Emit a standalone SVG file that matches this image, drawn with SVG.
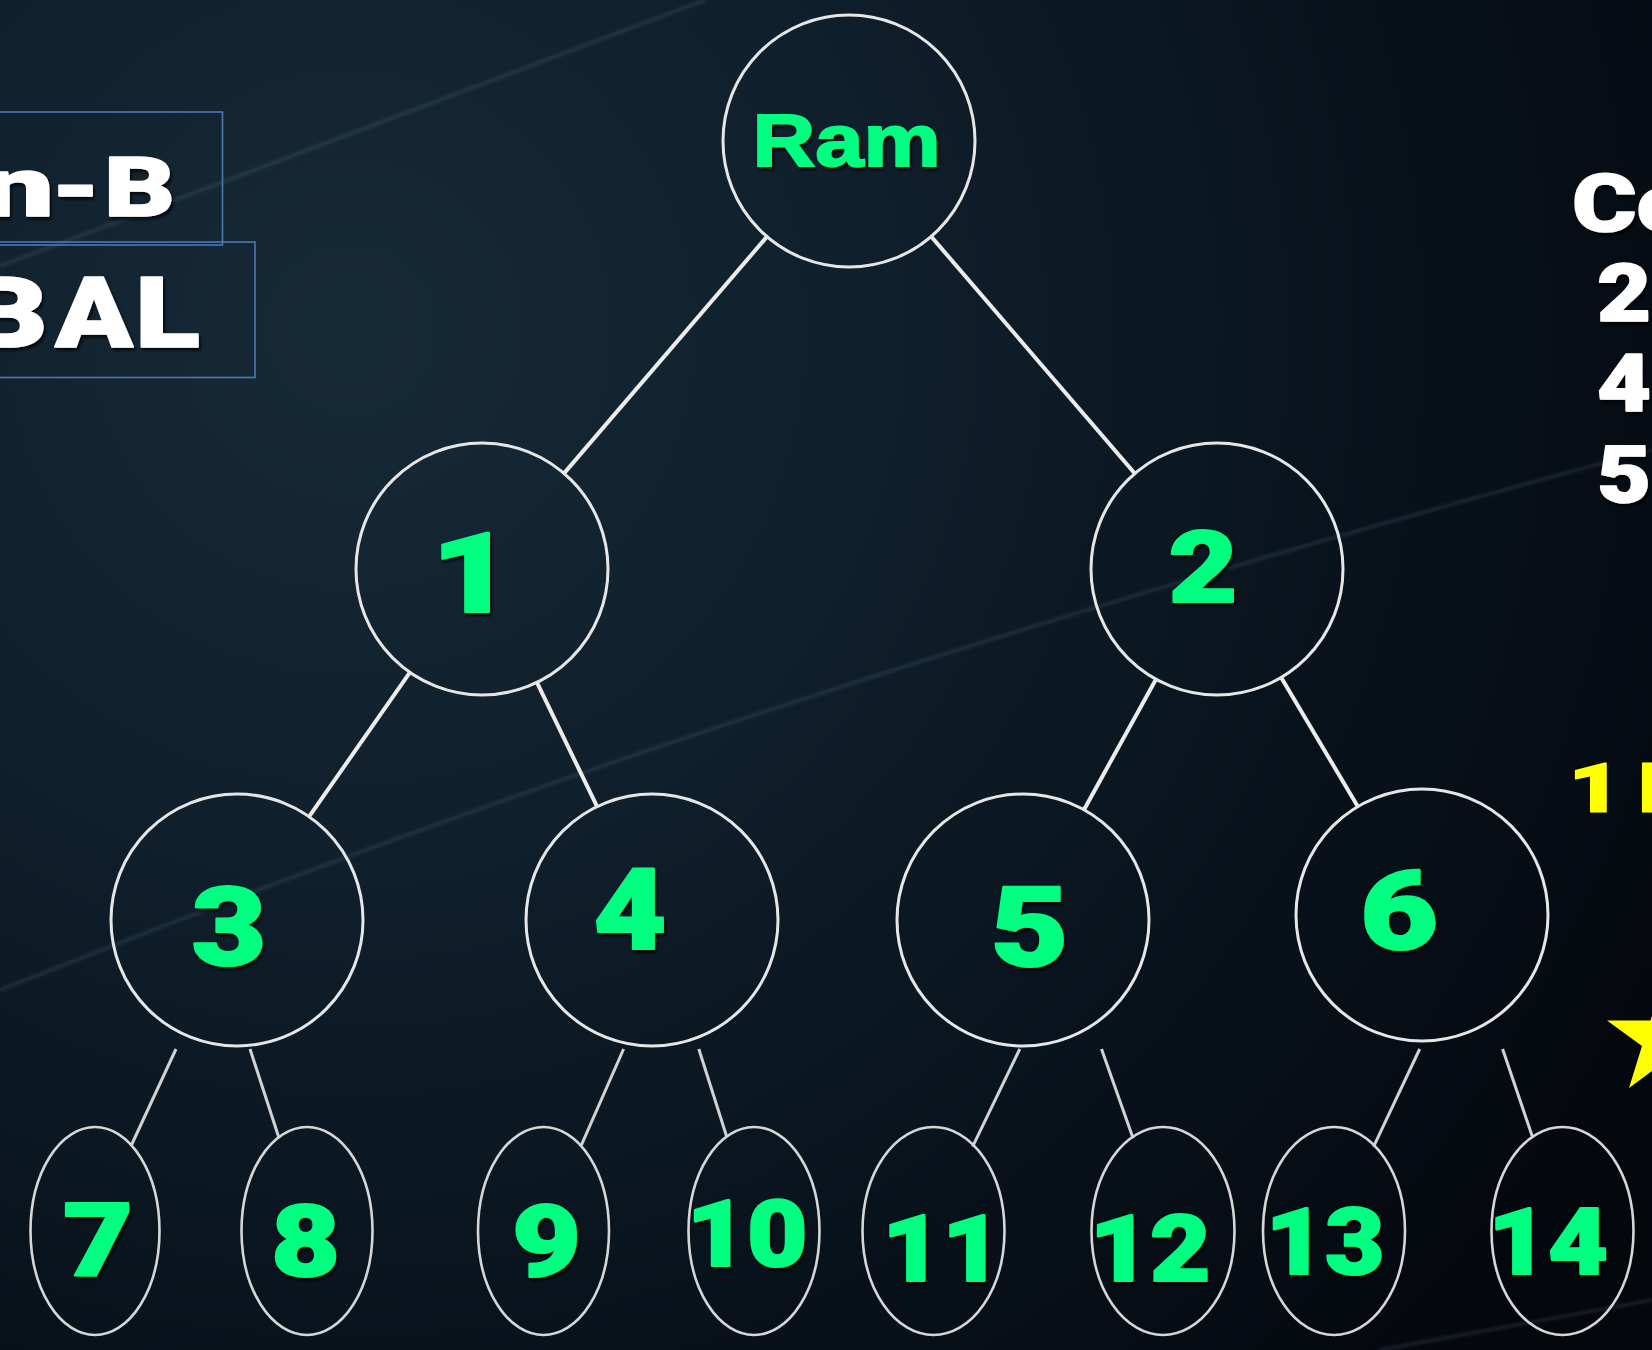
<svg xmlns="http://www.w3.org/2000/svg" width="1652" height="1350" viewBox="0 0 1652 1350">
<defs>
<radialGradient id="bg" cx="350" cy="330" r="1550" gradientUnits="userSpaceOnUse">
<stop offset="0" stop-color="#172a38"/>
<stop offset="0.35" stop-color="#0f1f2b"/>
<stop offset="0.7" stop-color="#08111a"/>
<stop offset="1" stop-color="#04070c"/>
</radialGradient>
<filter id="sh" x="-20%" y="-20%" width="150%" height="150%"><feDropShadow dx="2" dy="3" stdDeviation="1.5" flood-color="#000" flood-opacity="0.7"/></filter>
<filter id="blur" x="-5%" y="-5%" width="110%" height="110%"><feGaussianBlur stdDeviation="1.5"/></filter>
<filter id="soft" x="-5%" y="-5%" width="110%" height="110%"><feGaussianBlur stdDeviation="0.45"/></filter>
</defs>
<style>
.t { font-family: Roboto, "Liberation Sans", Arial, sans-serif; font-weight: 900; stroke-linejoin: round; }
.ram { font-family: "Liberation Sans", Arial, sans-serif; font-weight: bold; stroke-width: 1.5; }
.g { fill: #00ff80; stroke: #00ff80; stroke-width: 2; text-anchor: middle; filter: url(#sh); }
.w { fill: #ffffff; stroke: #ffffff; stroke-width: 1.5; filter: url(#sh); }
.y { fill: #ffff00; stroke: #ffff00; stroke-width: 1; }
.c { fill: none; stroke: #e6e6e6; stroke-width: 3; }
.e { fill: none; stroke: #d6d6d6; stroke-width: 2.6; filter: url(#soft); }
.up { stroke: #ececec; stroke-width: 4; stroke-linecap: butt; }
.lo { stroke: #d2d2d2; stroke-width: 3; stroke-linecap: butt; filter: url(#soft); }
.box { fill: none; stroke: #4a79b6; stroke-width: 1.6; }
.streak { fill: none; stroke: #7fa2bb; stroke-opacity: 0.18; stroke-width: 3; filter: url(#blur); }
</style>

<rect x="0" y="0" width="1652" height="1350" fill="url(#bg)"/>
<g id="streaks">
<path class="streak" d="M0,266 L705,0"/>
<path class="streak" d="M0,990 C400,830 900,650 1652,450"/>
<path class="streak" d="M1380,1350 L1652,1300" stroke-opacity="0.12"/>
</g>

<g id="title-boxes">
<rect class="box" x="-4" y="112" width="226.5" height="133"/>
<rect class="box" x="-4" y="242" width="259" height="135.5"/>
<text class="t w" y="216" font-size="84"><tspan x="-18" textLength="72" lengthAdjust="spacingAndGlyphs">n</tspan><tspan x="51" textLength="50" lengthAdjust="spacingAndGlyphs">-</tspan><tspan x="104" textLength="71" lengthAdjust="spacingAndGlyphs">B</tspan></text>
<text class="t w" y="347" font-size="98"><tspan x="-35" textLength="83" lengthAdjust="spacingAndGlyphs">B</tspan><tspan x="55" textLength="78" lengthAdjust="spacingAndGlyphs">A</tspan><tspan x="135" textLength="65" lengthAdjust="spacingAndGlyphs">L</tspan></text>
</g>

<g id="side-text">
<text class="t w" x="1572" y="230.5" font-size="80" textLength="120" lengthAdjust="spacingAndGlyphs">Co</text>
<text class="t w" x="1597" y="321" font-size="80" textLength="54" lengthAdjust="spacingAndGlyphs">2</text>
<text class="t w" x="1597" y="411" font-size="80" textLength="54" lengthAdjust="spacingAndGlyphs">4</text>
<text class="t w" x="1597" y="501.5" font-size="80" textLength="54" lengthAdjust="spacingAndGlyphs">5</text>
<text class="t y" y="812" font-size="68"><tspan x="1568" textLength="54" lengthAdjust="spacingAndGlyphs">1</tspan> <tspan x="1638">I</tspan></text>
<polygon fill="#ffff00" points="1664,979 1677.5,1020.5 1721,1020.5 1686,1046 1699,1088 1664,1062 1629,1088 1642,1046 1607,1020.5 1650.5,1020.5"/>
</g>

<g id="connectors">
<line class="up" x1="767" y1="236.6" x2="564" y2="473.4"/>
<line class="up" x1="931.2" y1="236.5" x2="1134.8" y2="473.5"/>
<line class="up" x1="409.9" y1="672.3" x2="309.1" y2="816.7"/>
<line class="up" x1="536.9" y1="682.4" x2="597.1" y2="806.6"/>
<line class="up" x1="1156" y1="679.3" x2="1084" y2="809.7"/>
<line class="up" x1="1281.2" y1="677.4" x2="1357.8" y2="806.6"/>
<line class="lo" x1="176" y1="1049" x2="131" y2="1146"/>
<line class="lo" x1="250" y1="1049" x2="279" y2="1138"/>
<line class="lo" x1="623.6" y1="1049" x2="580.7" y2="1146.7"/>
<line class="lo" x1="698.8" y1="1049" x2="726.8" y2="1137"/>
<line class="lo" x1="1019.8" y1="1049" x2="972.6" y2="1146.7"/>
<line class="lo" x1="1101.5" y1="1049" x2="1133" y2="1138"/>
<line class="lo" x1="1419.7" y1="1049" x2="1373.6" y2="1146.7"/>
<line class="lo" x1="1502.6" y1="1049" x2="1532.5" y2="1137"/>
</g>

<g id="node-ram"><circle class="c" cx="849" cy="141" r="126"/><text class="g ram" x="846.5" y="166" font-size="75" textLength="188" lengthAdjust="spacingAndGlyphs">Ram</text></g>
<g id="node-1"><circle class="c" cx="482" cy="569" r="126"/><text class="t g" x="472" y="612" font-size="112" textLength="82" lengthAdjust="spacingAndGlyphs">1</text></g>
<g id="node-2"><circle class="c" cx="1217" cy="569" r="126"/><text class="t g" x="1203" y="602" font-size="100" textLength="69" lengthAdjust="spacingAndGlyphs">2</text></g>
<g id="node-3"><circle class="c" cx="237" cy="920" r="126"/><text class="t g" x="229" y="965" font-size="110" textLength="75" lengthAdjust="spacingAndGlyphs">3</text></g>
<g id="node-4"><circle class="c" cx="652" cy="920" r="126"/><text class="t g" x="630" y="949" font-size="113" textLength="73" lengthAdjust="spacingAndGlyphs">4</text></g>
<g id="node-5"><circle class="c" cx="1023" cy="920" r="126"/><text class="t g" x="1029.5" y="965.5" font-size="111" textLength="78" lengthAdjust="spacingAndGlyphs">5</text></g>
<g id="node-6"><circle class="c" cx="1422" cy="915" r="126"/><text class="t g" x="1399" y="948.5" font-size="110" textLength="78" lengthAdjust="spacingAndGlyphs">6</text></g>

<g id="node-7"><ellipse class="e" cx="95" cy="1231" rx="64.5" ry="104"/><text class="t g" x="98" y="1276" font-size="102" textLength="70" lengthAdjust="spacingAndGlyphs">7</text></g>
<g id="node-8"><ellipse class="e" cx="307" cy="1231" rx="65.5" ry="104"/><text class="t g" x="305.5" y="1275.5" font-size="100" textLength="69" lengthAdjust="spacingAndGlyphs">8</text></g>
<g id="node-9"><ellipse class="e" cx="543.5" cy="1231" rx="65.5" ry="104"/><text class="t g" x="546.5" y="1275.5" font-size="100" textLength="69" lengthAdjust="spacingAndGlyphs">9</text></g>
<g id="node-10"><ellipse class="e" cx="754" cy="1231" rx="65.5" ry="104"/><text class="t g" x="747" y="1266" font-size="92" textLength="121" lengthAdjust="spacingAndGlyphs">10</text></g>
<g id="node-11"><ellipse class="e" cx="933.5" cy="1231" rx="71" ry="104"/><text class="t g" x="942" y="1281" font-size="92" textLength="120" lengthAdjust="spacingAndGlyphs">11</text></g>
<g id="node-12"><ellipse class="e" cx="1163" cy="1231" rx="71.5" ry="104"/><text class="t g" x="1150" y="1281" font-size="92" textLength="121" lengthAdjust="spacingAndGlyphs">12</text></g>
<g id="node-13"><ellipse class="e" cx="1334" cy="1231" rx="71" ry="104"/><text class="t g" x="1325" y="1274" font-size="92" textLength="119" lengthAdjust="spacingAndGlyphs">13</text></g>
<g id="node-14"><ellipse class="e" cx="1562.5" cy="1231" rx="71" ry="104"/><text class="t g" x="1548" y="1274" font-size="92" textLength="120" lengthAdjust="spacingAndGlyphs">14</text></g>
</svg>
